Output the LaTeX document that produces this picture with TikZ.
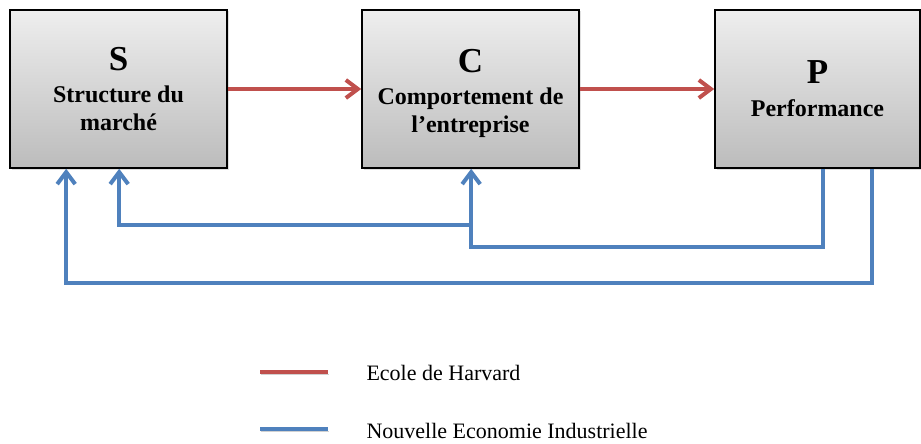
\documentclass[tikz,border=0pt]{standalone}
\usepackage{fontspec}
\setmainfont{Liberation Serif}
\usetikzlibrary{arrows.meta,shadows}
\definecolor{rougeharvard}{RGB}{192,80,77}
\definecolor{bleunei}{RGB}{79,129,189}
\definecolor{fondhaut}{RGB}{238,238,238}
\definecolor{fondbas}{RGB}{188,188,188}

\begin{document}
\begin{tikzpicture}[
		x=1pt,y=-1pt,
		bloc/.style={draw,line width=1.6pt,top color=fondhaut,bottom color=fondbas,minimum height=158pt,align=center,font=\bfseries\fontsize{24}{28}\selectfont,drop shadow={opacity=0.25,shadow xshift=1.5pt,shadow yshift=-1.5pt}},
		rouge/.style={draw=rougeharvard,line width=4pt,-{Straight Barb[length=12pt,width=18pt]}},
		bleu/.style={draw=bleunei,line width=4pt,-{Straight Barb[length=12pt,width=18pt]}},
		ombre/.style={preaction={draw=black!18,transform canvas={shift={(0.5pt,-2.5pt)}}}},
		legende/.style={anchor=west,font=\fontsize{22}{26}\selectfont}
	]
	\useasboundingbox (0,0) rectangle (921,444);
	\node[bloc,minimum width=217pt] (S) at (118.5,89) {{\fontsize{35}{35}\selectfont S}\\[4pt]Structure du\\marché};
	\node[bloc,minimum width=217pt] (C) at (470.5,89) {{\fontsize{35}{35}\selectfont C}\rule{0pt}{33pt}\\[4pt]Comportement de\\l’entreprise};
	\node[bloc,minimum width=205pt] (P) at (817.5,89) {{\fontsize{35}{35}\selectfont P}\\[5pt]Performance};

	\draw[rouge] (S.east) -- (C.west);
	\draw[rouge] (C.east) -- (P.west);

	\draw[bleu] ([xshift=158pt]P.south west) -- ++(0,114) -| ([xshift=57pt]S.south west);
	\draw[bleu] ([xshift=109pt]P.south west) -- ++(0,78) -| ([xshift=110pt]C.south west);
	\coordinate (jonction) at ([xshift=110pt,yshift=-56pt]C.south west);
	\draw[bleu] (jonction) -| ([xshift=110pt]S.south west);

	\node[legende] (harvard) at (363,373) {Ecole de Harvard};
	\node[legende] (nei) at (363,431) {Nouvelle Economie Industrielle};
	\draw[draw=rougeharvard,line width=4pt,ombre] ([xshift=-103pt,yshift=1pt]harvard.west) -- ++(68,0);
	\draw[draw=bleunei,line width=4pt,ombre] ([xshift=-103pt,yshift=2pt]nei.west) -- ++(68,0);
\end{tikzpicture}
\end{document}
